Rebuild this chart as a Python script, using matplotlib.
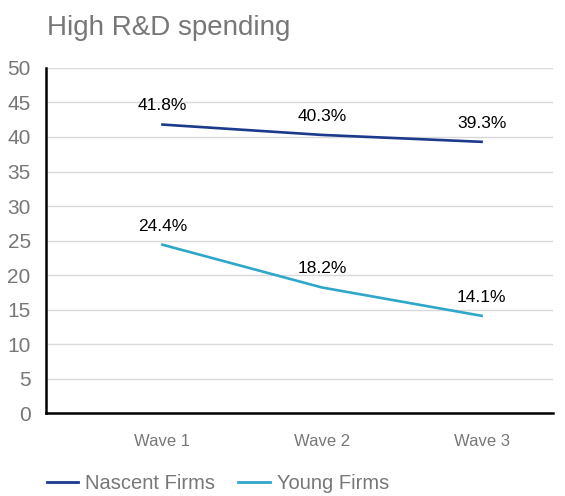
import matplotlib
matplotlib.use("Agg")
from matplotlib import pyplot as plt
from matplotlib.lines import Line2D

plt.rcParams["font.family"] = ["Liberation Sans", "DejaVu Sans"]

waves = ["Wave 1", "Wave 2", "Wave 3"]
nascent = [41.8, 40.3, 39.3]
young = [24.4, 18.2, 14.1]

NAVY = "#1b3a8c"
TEAL = "#2ea7c9"
GRAY = "#777777"

fig = plt.figure(figsize=(5.65, 4.96), dpi=100)
ax = fig.add_axes([0.0814, 0.167, 0.898, 0.696])

x = list(range(len(waves)))
ax.plot(x, nascent, color=NAVY, lw=1.9)
ax.plot(x, young, color=TEAL, lw=1.9)

for xi, v in zip(x, nascent):
    ax.annotate(f"{v}%", (xi, v), xytext=(0, 8), textcoords="offset points",
                ha="center", va="bottom", fontsize=12.5, color="black")
for xi, v in zip(x, young):
    ax.annotate(f"{v}%", (xi, v), xytext=(0, 8), textcoords="offset points",
                ha="center", va="bottom", fontsize=12.5, color="black")

ax.set_ylim(0, 50)
ax.set_xlim(-0.73, 2.45)
ax.set_yticks(range(0, 51, 5))
ax.set_xticks(x)
ax.set_xticklabels(waves)
ax.tick_params(axis="y", length=0, labelsize=15, labelcolor=GRAY, pad=11)
ax.tick_params(axis="x", length=0, labelsize=12, labelcolor=GRAY, pad=15)
ax.grid(axis="y", color="#d9d9d9", lw=1)
ax.set_axisbelow(True)
for s in ["top", "right"]:
    ax.spines[s].set_visible(False)
for s in ["left", "bottom"]:
    ax.spines[s].set_color("black")
    ax.spines[s].set_linewidth(1.8)

fig.text(0.083, 0.943, "High R&D spending", fontsize=20, color=GRAY, ha="left", va="center")

handles = [Line2D([], [], color=NAVY, lw=2), Line2D([], [], color=TEAL, lw=2)]
leg = fig.legend(handles, ["Nascent Firms", "Young Firms"], loc="lower left",
                 bbox_to_anchor=(47 / 565, 0.006), ncol=2, frameon=False, fontsize=14.5,
                 borderpad=0, borderaxespad=0,
                 handlelength=1.55, handletextpad=0.35, columnspacing=1.15)
for t in leg.get_texts():
    t.set_color(GRAY)

fig.savefig("out.png", dpi=100)
